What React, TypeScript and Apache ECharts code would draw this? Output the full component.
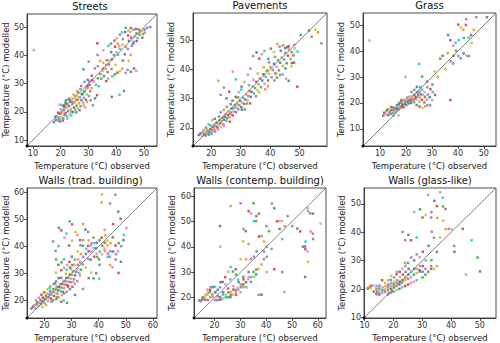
import React, { useEffect, useRef } from "react";
import * as echarts from "echarts";

const titles = ["Streets", "Pavements", "Grass", "Walls (trad. building)", "Walls (contemp. building)", "Walls (glass-like)"];
const xName = "Temperature (°C) observed";
const yName = "Temperature (°C) modelled";
const ranges: [number, number][] = [[7.9, 54.7], [13.8, 59.3], [3.4, 54.7], [13.6, 61.5], [12.0, 63.2], [9.8, 55.6]];
const ticks1 = [10, 20, 30, 40, 50];
const ticks2 = [20, 30, 40, 50];
const ticks3 = [10, 20, 30, 40, 50];
const ticks4 = [20, 30, 40, 50, 60];
const ticks5 = [20, 30, 40, 50, 60];
const ticks6 = [10, 20, 30, 40, 50];
const tickSets = [ticks1, ticks2, ticks3, ticks4, ticks5, ticks6];

const streets = [
[17.6,16.4],[18.3,17.2],[18.8,16.9],[19.2,18.1],[19.5,17.4],[19.9,19.3],[20.3,18.2],[20.6,19.8],[20.9,17.7],[21.2,20.6],[21.4,18.9],[21.8,19.6],[22.1,21.4],[22.3,18.4],[22.7,20.3],[23.0,22.1],[23.2,19.2],[23.6,21.0],[23.9,20.1],[24.2,22.7],[24.4,19.9],[24.8,21.5],[25.1,23.4],[25.3,20.7],[25.7,22.2],[26.0,24.3],[26.2,21.3],[26.6,23.0],[26.9,25.2],[27.2,22.0],[27.5,24.1],[27.8,26.3],[28.1,23.2],[28.4,25.0],[28.7,27.4],[29.1,24.3],[29.4,26.2],[29.8,28.5],[30.2,25.6],[30.6,27.3],[18.1,18.3],[19.1,19.7],[20.1,20.9],[21.1,21.8],[22.2,22.9],[23.3,24.1],[24.1,24.9],[25.2,25.8],[26.3,26.9],[27.1,28.1],[19.7,16.6],[20.8,16.9],[22.4,17.6],[23.8,18.7],[25.6,19.8],[26.8,20.6],[28.3,22.4],[29.5,23.5],[30.8,24.1],[31.6,22.3],[32.4,24.8],[33.1,25.9],[28.8,21.6],[20.4,22.3],[21.7,23.2],[22.9,24.6],[24.6,26.1],[25.9,27.3],[27.4,29.2],[28.6,30.6],[29.7,31.4],[31.2,32.8],[31.9,30.7],[32.7,29.6],[33.4,31.9],[34.3,33.4],[35.1,34.6],[36.2,35.3],[37.4,36.8],[38.3,35.2],[35.6,32.7],[36.4,30.9],[37.1,31.8],[38.6,32.6],[39.5,33.3],[40.4,33.9],[41.3,34.4],[42.2,35.3],[43.4,33.8],[44.1,34.9],[45.3,34.2],[46.4,35.4],[47.2,34.6],[41.2,26.1],[42.8,27.4],[38.4,25.3],[35.3,37.4],[34.2,38.1],[33.3,40.2],[30.1,37.8],[28.2,35.1],[33.2,44.3],[35.4,41.8],[37.2,43.4],[38.1,44.2],[39.4,45.3],[40.2,46.1],[40.6,44.2],[41.3,47.4],[42.4,45.8],[43.2,48.3],[44.3,47.1],[45.1,48.4],[46.2,49.1],[47.3,47.8],[48.1,49.2],[49.2,48.8],[50.3,48.1],[51.2,49.8],[52.3,50.1],[44.6,45.2],[45.4,46.3],[46.6,46.8],[47.7,46.2],[48.4,47.4],[49.4,46.3],[42.3,43.8],[43.5,43.1],[44.2,42.3],[45.6,43.4],[46.1,44.2],[47.4,45.1],[40.1,41.2],[41.4,42.3],[39.2,40.1],[38.4,38.6],[37.3,38.2],[36.4,36.7],[35.2,35.4],[36.6,38.3],[38.2,41.2],[39.6,43.1],[41.1,43.3],[42.1,48.2],[43.4,49.8],[45.3,49.7],[44.4,48.8],[48.6,48.3],[46.3,44.8],[49.7,47.6],[50.2,49.2],[47.1,49.4],[10.3,41.9],[40.7,40.3],[42.4,38.2],[43.1,40.4],[44.5,38.1],[45.2,40.2],[32.3,35.4],[33.4,36.2],[30.4,29.6],[31.3,31.2],[29.2,28.3],[28.4,27.1],[27.6,26.3],[29.6,29.2],[26.4,25.2],[25.4,24.3],[24.3,23.4],[23.4,23.6],[21.9,24.1],[21.3,22.3],[19.6,22.6],[33.7,29.1],[34.6,31.8],[36.9,34.1],[39.8,36.7],[31.1,28.4],[30.3,30.8]
];

const pavements = [
[15.8,17.6],[16.4,18.1],[16.9,17.2],[17.2,18.7],[17.6,17.9],[18.1,17.4],[18.3,18.8],[18.6,19.3],[18.9,18.0],[19.2,17.6],[19.4,18.6],[19.7,19.6],[19.9,18.2],[20.2,17.9],[20.4,19.1],[20.7,20.2],[20.9,21.1],[21.1,19.4],[21.3,18.7],[21.6,20.6],[21.8,21.8],[22.1,20.1],[22.3,19.4],[22.5,21.2],[22.8,22.6],[23.1,21.6],[23.3,20.3],[23.6,22.3],[23.8,23.4],[24.1,21.2],[24.3,22.8],[24.6,23.8],[24.9,24.6],[25.1,22.4],[25.4,23.3],[25.7,24.4],[25.9,25.5],[26.2,23.6],[26.4,24.7],[26.7,25.3],[27.0,26.6],[27.3,24.3],[27.6,25.6],[27.8,26.8],[28.1,27.7],[28.4,25.4],[28.6,26.9],[28.9,28.3],[29.2,26.4],[29.5,27.7],[29.8,29.2],[30.2,27.1],[30.5,28.6],[30.8,30.3],[31.2,28.2],[31.5,29.7],[31.9,31.4],[32.3,29.4],[32.6,30.9],[33.0,32.6],[33.4,30.6],[33.7,32.3],[34.1,34.2],[34.5,31.7],[34.9,33.6],[35.3,35.8],[35.7,32.8],[36.1,34.9],[36.5,36.9],[36.9,33.9],[37.3,36.2],[37.7,38.3],[38.1,35.1],[38.5,37.4],[38.9,39.6],[39.3,36.2],[39.7,38.5],[40.1,40.8],[40.5,37.3],[40.9,39.8],[41.3,41.9],[41.8,38.6],[42.2,40.9],[42.6,43.2],[43.0,39.7],[43.4,42.3],[43.9,44.1],[44.3,41.2],[44.7,43.4],[45.1,45.6],[45.6,42.1],[46.0,44.7],[46.4,46.8],[46.9,43.6],[47.3,45.9],[47.9,44.8],[48.3,47.2],
[22.4,36.1],[23.2,31.3],[24.3,33.8],[25.2,30.1],[26.1,32.4],[27.3,39.2],[28.4,36.6],[29.1,30.4],[30.3,34.1],[31.2,35.7],[32.4,38.2],[33.3,40.3],[34.2,44.6],[35.4,45.8],[36.3,43.7],[37.2,45.2],[38.1,46.3],[39.4,43.6],[40.2,47.1],[41.3,45.9],[42.4,48.7],[43.2,47.8],[44.4,48.2],[45.1,47.3],[46.3,47.9],[48.2,48.4],[49.3,46.1],[50.4,51.8],[53.2,53.3],[55.3,53.6],[56.2,52.7],[57.4,48.9],[54.1,51.2],
[46.3,36.1],[49.2,34.1],[45.4,36.8],[44.2,38.3],[42.3,37.2],[48.1,42.3],[47.2,41.1],[38.3,33.2],[35.2,30.8],[32.1,28.3],[30.4,26.2],[26.3,22.1],[24.4,20.6],
[19.1,21.2],[18.2,20.1],[21.2,23.1],[20.3,22.6],[24.2,26.1],[23.2,25.3],[25.3,27.2],[27.2,29.3],[28.3,30.6],[29.3,32.2],[30.2,33.1],[31.4,26.3],[33.2,28.4],[36.3,32.1],[39.2,34.3],[41.4,36.2],[43.3,38.1],[45.2,40.3],[47.4,42.2],[17.4,19.3],[19.8,20.8],[22.6,23.9],[26.6,28.1],[35.8,38.6],[37.8,40.7],[39.6,42.4],[41.6,44.3],[43.6,46.4],[45.8,47.6],[34.3,36.4],[32.8,34.6]
];

const grass = [
[11.2,15.1],[11.6,16.2],[12.1,15.6],[12.4,16.9],[12.8,17.4],[13.1,15.3],[13.4,16.0],[13.2,17.6],[13.7,16.6],[14.1,15.7],[14.4,17.2],[14.3,18.4],[14.8,16.3],[15.0,16.1],[15.4,17.3],[15.2,18.2],[15.7,17.1],[16.0,16.4],[16.4,17.5],[16.2,18.1],[16.5,19.2],[16.8,17.8],[17.1,17.3],[17.4,18.2],[17.2,19.4],[17.5,20.1],[17.8,18.6],[18.1,18.4],[18.4,19.1],[18.2,20.3],[18.7,19.5],[19.0,18.3],[19.4,19.6],[19.2,21.1],[19.6,20.4],[20.1,19.2],[20.3,20.1],[20.2,21.3],[20.5,22.1],[20.8,20.6],[21.1,19.8],[21.4,21.2],[21.2,22.4],[21.7,20.2],[22.0,20.1],[22.4,21.2],[22.2,22.6],[22.8,21.4],[23.1,20.3],[23.4,21.6],[23.2,23.1],[23.7,22.2],[24.0,21.3],[24.4,22.3],[24.2,24.1],[24.7,23.2],[25.1,20.4],[25.3,22.1],[25.2,24.3],[25.5,26.1],[25.8,23.3],[26.1,21.2],[26.4,23.2],[26.2,25.1],[27.1,20.2],[27.3,22.4],[27.2,24.2],[28.1,21.3],[28.4,23.2],[28.2,26.1],[29.1,22.2],[29.4,25.3],[30.1,21.1],[30.3,24.2],[30.2,27.1],[25.2,18.6],[26.3,18.1],[27.4,18.7],[28.2,19.2],[29.3,19.1],[24.1,19.2],[31.2,23.1],[19.8,30.1],[25.1,35.1],[26.2,30.2],[28.1,28.2],[31.1,32.2],[32.2,30.1],[22.1,24.2],[23.2,25.1],[24.2,26.2],[18.2,21.1],[17.1,15.2],[15.2,15.1],[33.2,37.1],[34.1,38.2],[35.2,33.1],[36.1,39.2],[37.2,36.1],[38.1,35.2],[36.2,46.2],[37.1,44.2],[38.2,42.1],[39.1,43.2],[39.3,40.1],[40.1,50.2],[41.2,49.1],[42.1,48.2],[40.2,38.1],[41.1,37.2],[42.2,39.1],[43.1,50.1],[43.3,38.2],[44.1,45.2],[44.2,38.1],[45.1,46.2],[45.3,43.1],[46.1,48.2],[43.2,52.3],[47.1,53.1],[51.2,53.1],[37.1,21.1],[5.9,44.1],[40.3,44.2],[42.3,45.1],[38.3,38.2]
];

const wallsTrad = [
[15.2,17.1],[15.8,17.8],[16.3,18.3],[16.7,17.2],[17.1,18.6],[17.4,19.4],[17.8,18.1],[18.2,19.2],[18.5,20.3],[18.8,18.7],[19.1,19.8],[19.4,21.1],[19.7,20.2],[20.0,19.1],[20.3,20.7],[20.6,21.8],[20.9,22.6],[21.2,19.9],[21.5,21.2],[21.8,22.3],[22.1,23.4],[22.4,20.8],[22.7,22.1],[23.0,23.2],[23.3,24.3],[23.6,21.7],[23.9,22.9],[24.2,24.1],[24.5,25.2],[24.8,22.6],[25.1,23.8],[25.4,25.0],[25.7,26.2],[26.0,23.5],[26.3,24.8],[26.6,26.1],[26.9,27.3],[27.2,24.6],[27.5,25.9],[27.8,27.1],[28.1,28.4],[28.4,25.7],[28.7,27.0],[29.0,28.3],[29.3,29.6],[29.6,26.8],[29.9,28.1],[30.2,29.5],[30.5,30.8],[30.9,27.9],[31.3,29.3],[31.7,30.6],[32.2,31.8],[32.8,30.2],[33.4,31.4],[19.9,23.1],[21.1,24.2],[22.2,25.3],[23.4,26.1],[24.3,27.2],[25.2,28.3],[18.9,22.2],[17.9,21.1],[16.9,20.1],[23.2,20.1],[24.4,20.6],[25.3,21.2],[26.4,22.1],[27.3,22.7],[28.2,23.3],[29.4,24.2],[30.3,25.1],[31.2,26.2],[27.1,20.1],[28.3,19.2],[26.2,19.6],[19.3,17.6],[20.6,18.4],[22.6,19.6],[24.7,21.3],[26.8,23.2],[28.8,25.2],[30.7,26.9],[21.9,24.6],[24.0,26.4],[26.1,28.4],[27.9,29.9],[29.8,31.7],
[23.2,41.8],[24.1,38.3],[25.3,46.8],[26.2,45.9],[27.4,43.2],[28.1,44.7],[29.3,49.2],[30.2,48.1],[31.4,45.3],[32.1,44.2],[33.3,40.4],[34.2,42.3],[35.1,46.2],[36.3,38.2],[37.2,40.3],[38.4,41.2],[39.1,39.3],[40.3,42.2],[41.2,59.1],[41.1,56.2],[44.2,55.8],[46.1,59.0],[47.2,52.8],[48.1,50.2],[50.2,46.8],[49.3,44.2],[47.4,41.2],[45.2,43.3],[42.4,44.1],[43.2,40.3],[44.3,38.2],[46.4,37.1],[48.2,34.3],[47.3,30.2],[45.1,32.3],[40.2,28.1],[38.1,28.2],[36.3,28.3],[35.2,32.2],[33.1,29.2],[32.3,33.2],[31.2,35.1],[30.1,36.2],[29.2,34.3],[28.4,33.1],[27.2,35.2],[26.3,34.1],[25.1,33.2],[24.2,30.3],[33.4,37.2],[34.3,36.1],[36.2,35.3],[37.1,35.1],[38.3,36.2],[39.2,37.3],[40.4,38.1],[41.3,40.2],[42.2,41.3],[43.1,42.1],[44.4,41.2],[32.1,27.2],[34.2,24.3],[31.3,22.1],[26.2,31.2],[27.3,32.1],[28.2,31.3],[29.4,32.2],[30.3,33.1],[31.1,33.3],[32.4,35.2],[33.2,34.1],[34.1,33.3],[35.3,37.2],[36.1,40.2],[37.3,38.1],[38.2,39.3],[39.4,36.1],[40.1,35.2],[41.2,37.1],[42.3,38.2],[43.4,37.3],[44.1,36.2],[45.3,38.1],[46.2,40.3],[47.1,38.2],[35.4,39.1],[34.2,40.2],[33.1,42.3],[32.2,38.1],[36.3,42.2],[37.4,41.1],[38.1,43.2],[39.3,41.3],[41.1,43.2],[42.1,39.2],[43.3,36.1],[40.3,33.2],[39.1,30.1],[37.2,30.3],[44.2,33.1],[46.3,35.2],[48.3,40.1],[49.1,42.3],[45.3,48.2],[42.2,46.1],[25.2,40.1],[24.3,35.2],[29.1,40.3],[30.2,42.1],[34.3,48.2],[36.1,45.3]
];

const wallsContemp = [
[14.1,19.0],[15.2,19.3],[16.1,20.2],[17.2,21.3],[18.1,22.2],[17.3,19.1],[16.4,21.1],[18.3,20.2],[19.1,21.3],[20.2,22.1],[19.3,24.2],[18.2,23.1],[17.1,23.2],[20.1,24.3],[15.3,20.1],[16.2,19.2],[17.4,22.1],[19.2,20.3],[14.6,18.6],[18.4,24.1],
[21.1,19.1],[22.2,19.2],[23.1,19.6],[24.2,20.1],[25.1,20.2],[26.3,21.1],[27.1,21.2],[28.2,22.1],[29.1,23.2],[30.3,24.1],[31.1,25.2],[32.2,26.1],[33.1,27.3],[34.2,28.1],[35.1,30.2],[36.2,31.1],[37.1,31.3],[38.2,33.1],[39.1,35.2],[40.2,36.1],[26.1,20.2],[28.3,21.1],[30.1,22.2],[32.3,24.1],[34.1,26.2],[22.1,20.2],[24.3,21.1],[26.2,22.2],[28.1,23.1],[30.2,25.2],[29.3,26.1],[31.2,27.2],[33.3,28.1],[23.2,21.2],[25.3,22.1],[27.2,23.2],[29.2,24.1],[31.3,24.2],[20.2,19.1],[21.2,20.6],[23.3,22.1],[25.2,23.6],[27.3,24.6],[29.1,27.1],[31.1,28.2],[33.2,30.1],[35.3,28.2],[36.1,29.1],
[20.3,22.2],[22.1,24.1],[23.2,26.2],[24.1,28.1],[25.3,30.2],[26.2,32.1],[27.1,30.3],[28.2,31.2],[30.1,35.2],[32.2,35.1],[34.1,35.3],[35.2,36.1],[36.3,38.2],[37.2,44.1],[38.1,44.3],[40.2,40.1],[41.1,46.2],[45.2,47.1],[46.1,50.2],[47.2,48.1],[48.3,52.1],[50.1,48.2],[21.2,23.1],[22.3,26.1],[24.2,25.2],[26.1,27.2],[28.3,29.1],
[22.1,48.2],[22.2,40.1],[26.2,56.1],[30.1,57.2],[31.2,47.1],[32.1,46.2],[33.2,54.1],[34.1,53.2],[35.2,50.1],[36.1,50.2],[37.2,53.1],[38.3,44.2],[39.2,42.1],[40.1,48.2],[42.2,57.1],[43.1,55.2],[44.2,50.1],[45.1,50.2],[46.2,43.1],[35.1,57.2],[36.2,52.1],[31.1,42.2],[33.2,41.1],[39.1,38.2],[42.1,39.2],
[52.1,47.2],[53.2,46.1],[56.1,55.2],[56.2,54.1],[57.1,53.2],[58.2,53.1],[61.1,49.2],[57.2,46.1],[58.1,45.2],[58.2,43.1],[55.1,40.2],[55.2,39.1],[56.1,38.2],[55.3,42.1],[54.2,40.1],[55.1,28.2],[56.2,34.1],[47.1,22.2],[46.2,30.1],[37.1,21.1],[38.2,21.2],[43.1,31.2],[40.2,30.1],[36.1,29.3]
];

const wallsGlass = [
[11.1,20.2],[12.2,21.1],[13.1,21.3],[14.2,21.1],[15.1,20.2],[13.2,19.1],[12.1,20.3],[11.6,20.6],[14.1,20.1],[15.2,21.2],
[14.1,18.2],[15.1,18.1],[15.2,19.1],[16.1,18.6],[16.2,19.6],[17.1,19.1],[17.2,20.1],[17.3,21.1],[18.1,19.6],[18.2,20.6],[18.3,21.6],[19.1,20.1],[19.2,21.1],[19.3,22.1],[20.1,20.6],[20.2,21.6],[20.3,22.6],[21.1,21.1],[21.2,22.1],[21.3,23.1],[22.1,21.6],[22.2,22.6],[22.3,24.1],[23.1,22.1],[23.2,23.1],[23.3,25.1],[24.1,23.1],[24.2,24.1],[24.3,26.1],[25.1,23.6],[25.2,25.1],[25.3,27.1],[26.1,24.1],[26.2,26.1],[27.1,25.1],[27.2,27.1],[28.1,25.6],[28.2,27.1],[29.1,26.1],[29.2,28.1],[30.1,26.1],[30.2,28.1],[16.3,20.6],[18.4,18.6],[19.4,19.1],[14.3,19.1],
[17.1,22.2],[18.2,23.1],[19.1,23.2],[20.2,24.1],[21.1,25.2],[22.2,26.1],[23.1,27.2],[24.2,28.1],[25.1,29.2],[16.1,23.1],[19.2,24.6],[21.2,26.1],
[18.1,18.1],[20.1,19.1],[22.1,20.1],[24.1,21.1],[26.1,22.1],[28.1,23.1],[30.1,24.1],[32.1,26.1],[34.1,27.1],[35.1,28.1],[33.1,28.1],[31.1,27.1],[29.1,26.6],[25.1,21.6],[27.1,22.6],[23.1,20.6],[31.1,25.1],[33.1,27.1],[21.1,19.6],[19.1,18.6],
[23.2,40.1],[24.1,37.2],[25.2,39.1],[26.1,37.2],[27.2,47.1],[28.1,38.2],[29.2,48.1],[30.1,45.2],[31.2,46.1],[32.1,53.2],[33.2,47.1],[33.1,45.2],[34.2,51.1],[35.1,49.2],[36.2,54.1],[37.1,52.2],[37.2,49.1],[38.1,48.2],[37.3,44.1],[35.2,45.1],[33.3,40.2],[34.1,38.1],[32.2,35.2],[30.2,33.1],[29.1,31.2],[31.2,30.1],[33.2,30.2],[35.1,33.1],[36.2,38.2],[38.1,41.1],[39.2,41.2],[41.1,35.2],[41.2,33.1],[44.1,41.2],[45.2,25.1],[47.1,37.2],[49.2,31.1],[50.1,26.2],[40.2,41.1],[24.1,29.2],[26.2,31.1],[28.1,32.2],[27.2,30.1]
];

const panels = [streets, pavements, grass, wallsTrad, wallsContemp, wallsGlass];

const tab10 = ["#1f77b4", "#ff7f0e", "#2ca02c", "#d62728", "#9467bd", "#8c564b", "#e377c2", "#7f7f7f", "#bcbd22", "#17becf"];

const grids = [
  { left: 23, top: 14, width: 134, height: 132 },
  { left: 193, top: 13, width: 134, height: 133 },
  { left: 363, top: 13, width: 133, height: 133 },
  { left: 24, top: 188, width: 133, height: 133 },
  { left: 194, top: 188, width: 132, height: 132 },
  { left: 364, top: 188, width: 132, height: 131 },
];

const FONT = "DejaVu Sans";

export default function App() {
  const ref = useRef<HTMLDivElement>(null);
  useEffect(() => {
    if (!ref.current) return;
    const chart = echarts.init(ref.current, undefined, { renderer: "svg" });
    const axisCommon = (i: number, isX: boolean) => ({
      type: "value",
      gridIndex: i,
      min: ranges[i][0],
      max: ranges[i][1],
      axisLine: { show: true, onZero: false, lineStyle: { color: "#222", width: 0.8 } },
      axisTick: { show: true, length: 3, customValues: tickSets[i], lineStyle: { color: "#222", width: 0.8 } },
      axisLabel: { customValues: tickSets[i], fontSize: 8, color: "#333", margin: 3, fontFamily: FONT },
      splitLine: { show: false },
      name: isX ? xName : yName,
      nameLocation: "middle",
      nameGap: isX ? 15 : 17,
      nameTextStyle: { fontSize: 8.5, color: "#222", fontFamily: FONT },
    });
    const series: any[] = [];
    panels.forEach((pts, i) => {
      series.push({
        type: "scatter",
        xAxisIndex: i,
        yAxisIndex: i,
        symbol: "rect",
        symbolSize: 2.5,
        data: pts.map((p, k) => ({ value: p, itemStyle: { color: tab10[(k * 3) % 10] } })),
      });
      series.push({
        type: "line",
        xAxisIndex: i,
        yAxisIndex: i,
        symbol: "none",
        showSymbol: true,
        lineStyle: { color: "#666", width: 0.8 },
        data: [
          { value: [ranges[i][0], ranges[i][0]], symbol: "circle", symbolSize: 3, itemStyle: { color: "#000" } },
          [ranges[i][1], ranges[i][1]],
        ],
        z: 5,
      });
    });
    chart.setOption({
      animation: false,
      backgroundColor: "#fff",
      title: titles.map((t, i) => ({
        text: t,
        left: grids[i].left + grids[i].width / 2,
        top: grids[i].top - 13,
        padding: 0,
        textAlign: "center",
        textStyle: { fontSize: 10, fontWeight: "normal", color: "#111", fontFamily: FONT },
      })),
      grid: grids.map((g) => ({ ...g, show: true, borderColor: "#222", borderWidth: 0.8, backgroundColor: "transparent" })),
      xAxis: grids.map((_, i) => axisCommon(i, true)),
      yAxis: grids.map((_, i) => axisCommon(i, false)),
      series,
    });
    return () => chart.dispose();
  }, []);
  return <div ref={ref} style={{ position: "fixed", left: 0, top: 0, width: 500, height: 343 }} />;
}
